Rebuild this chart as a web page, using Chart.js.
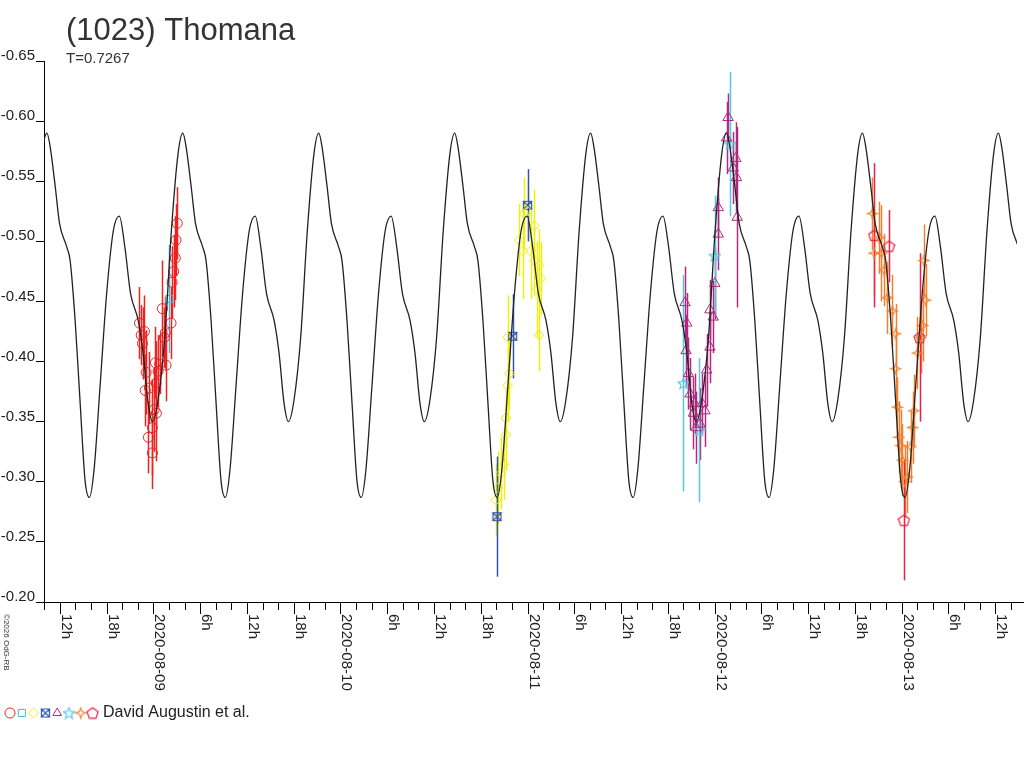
<!DOCTYPE html>
<html>
<head>
<meta charset="utf-8">
<script src="https://cdn.jsdelivr.net/npm/chart.js@4/dist/chart.umd.min.js"></script>
<style>
  html, body { margin: 0; padding: 0; background: #fff; }
  canvas { display: block; }
</style>
</head>
<body>
<canvas id="lc" width="1024" height="768"></canvas>
<script>
// time axis: hours since 2020-08-08 00h UT
const PERIOD_H = 0.7267 * 24;
const EPOCH_H = 10.33; // a maximum of the fitted curve

// one period of the fitted curve: [phase, mag]
const MODEL = [
  [0.000, -0.590], [0.025, -0.578], [0.062, -0.545], [0.093, -0.515],
  [0.147, -0.495], [0.171, -0.484], [0.208, -0.434], [0.245, -0.365],
  [0.281, -0.301], [0.313, -0.287], [0.347, -0.310], [0.391, -0.379],
  [0.440, -0.457], [0.489, -0.509], [0.533, -0.521], [0.574, -0.495],
  [0.615, -0.457], [0.672, -0.434], [0.708, -0.407], [0.745, -0.365],
  [0.777, -0.350], [0.818, -0.368], [0.867, -0.420], [0.916, -0.509],
  [0.965, -0.573]
];

// observations [hours, mag, err]
const OBS = {
  circ: { color: '#ee2222', style: 'circle', pts: [
    [22.21, -0.432, 0.03], [22.43, -0.422, 0.025], [22.60, -0.415, 0.03], [22.85, -0.425, 0.03],
    [23.07, -0.391, 0.035], [22.95, -0.376, 0.03], [23.49, -0.378, 0.03], [23.36, -0.337, 0.03],
    [23.87, -0.345, 0.04], [23.87, -0.324, 0.03], [24.10, -0.360, 0.035], [24.26, -0.399, 0.03],
    [24.35, -0.382, 0.035], [24.38, -0.357, 0.04], [24.60, -0.392, 0.03], [24.80, -0.398, 0.025],
    [25.15, -0.444, 0.04], [25.53, -0.424, 0.03], [25.62, -0.397, 0.03], [25.40, -0.420, 0.025],
    [26.26, -0.432, 0.03], [26.39, -0.466, 0.03], [26.60, -0.475, 0.03], [26.81, -0.486, 0.035],
    [26.90, -0.501, 0.03], [27.06, -0.515, 0.03]
  ]},
  sq: { color: '#44bbdd', style: 'rect', pts: [
    [26.04, -0.452, 0.045]
  ]},
  dia: { color: '#eeee11', style: 'rectRot', pts: [
    [67.96, -0.285, 0.03], [68.20, -0.295, 0.03], [68.59, -0.307, 0.03], [69.03, -0.315, 0.03],
    [69.23, -0.339, 0.03], [69.23, -0.353, 0.025], [69.45, -0.380, 0.03], [69.67, -0.390, 0.03],
    [69.45, -0.420, 0.035], [70.94, -0.501, 0.03], [71.36, -0.492, 0.04], [71.58, -0.523, 0.03],
    [72.00, -0.525, 0.025], [72.39, -0.492, 0.04], [72.86, -0.513, 0.03], [72.86, -0.484, 0.03],
    [73.49, -0.480, 0.03], [73.70, -0.469, 0.03], [73.49, -0.422, 0.03], [73.20, -0.460, 0.04]
  ]},
  bow: { color: '#3355aa', style: 'bow', pts: [
    [68.08, -0.271, 0.05], [70.09, -0.421, 0.035], [72.00, -0.530, 0.03]
  ]},
  tri: { color: '#b02a80', style: 'triangle', pts: [
    [92.21, -0.449, 0.03], [92.34, -0.409, 0.03], [92.43, -0.432, 0.025], [92.64, -0.390, 0.03],
    [92.85, -0.373, 0.03], [93.28, -0.357, 0.03], [93.62, -0.345, 0.03], [93.45, -0.365, 0.025],
    [94.13, -0.348, 0.03], [94.40, -0.365, 0.025], [94.76, -0.359, 0.03], [94.98, -0.393, 0.03],
    [95.40, -0.412, 0.03], [95.40, -0.443, 0.025], [95.82, -0.437, 0.03], [96.03, -0.465, 0.03],
    [96.47, -0.506, 0.03], [96.47, -0.528, 0.025], [97.53, -0.586, 0.03], [97.74, -0.603, 0.02],
    [98.39, -0.561, 0.03], [98.72, -0.569, 0.03], [98.81, -0.553, 0.03], [98.90, -0.520, 0.075]
  ]},
  star: { color: '#55c8e0', style: 'star5', pts: [
    [92.00, -0.382, 0.09], [94.04, -0.343, 0.06], [96.03, -0.488, 0.05], [97.96, -0.581, 0.06]
  ]},
  four: { color: '#f08030', style: 'four', pts: [
    [116.26, -0.523, 0.03], [116.47, -0.490, 0.035], [117.11, -0.503, 0.03], [117.40, -0.490, 0.04],
    [117.75, -0.476, 0.03], [118.18, -0.453, 0.03], [118.82, -0.442, 0.03], [119.24, -0.423, 0.025],
    [119.24, -0.394, 0.03], [119.46, -0.362, 0.025], [119.66, -0.337, 0.03], [119.90, -0.330, 0.03],
    [120.10, -0.318, 0.03], [120.40, -0.300, 0.03], [120.74, -0.304, 0.03], [121.16, -0.329, 0.03],
    [121.40, -0.345, 0.03], [121.58, -0.359, 0.03], [122.02, -0.407, 0.03], [122.44, -0.420, 0.03],
    [122.86, -0.484, 0.03], [123.08, -0.451, 0.03], [122.70, -0.430, 0.03]
  ]},
  pent: { color: '#ee2244', style: 'pent', pts: [
    [116.47, -0.505, 0.06], [118.38, -0.496, 0.03], [122.30, -0.420, 0.07], [120.30, -0.268, 0.05]
  ]}
};
const ORDER = ['circ', 'sq', 'dia', 'bow', 'tri', 'star', 'four', 'pent'];
const CUSTOM = ['pent', 'four', 'bow', 'star5'];

function markImg(kind, color) {
  const c = document.createElement('canvas');
  c.width = 13; c.height = 13;
  const g = c.getContext('2d');
  g.strokeStyle = color; g.lineWidth = 1.2;
  g.beginPath();
  if (kind === 'pent' || kind === 'star5') {
    const n = kind === 'pent' ? 5 : 10;
    for (let i = 0; i < n; i++) {
      const a = -Math.PI / 2 + i * 2 * Math.PI / n;
      const r = (kind === 'star5' && i % 2) ? 2.6 : 5.8;
      const x = 6.5 + r * Math.cos(a), y = 7 + r * Math.sin(a);
      i ? g.lineTo(x, y) : g.moveTo(x, y);
    }
    g.closePath();
  } else if (kind === 'four') {
    g.moveTo(6.5, 0.5); g.quadraticCurveTo(6.5, 6.5, 12.5, 6.5);
    g.quadraticCurveTo(6.5, 6.5, 6.5, 12.5); g.quadraticCurveTo(6.5, 6.5, 0.5, 6.5);
    g.quadraticCurveTo(6.5, 6.5, 6.5, 0.5);
  } else if (kind === 'bow') {
    g.moveTo(2.5, 2.5); g.lineTo(10.5, 2.5); g.lineTo(2.5, 10.5); g.lineTo(10.5, 10.5); g.closePath();
    g.moveTo(2.5, 2.5); g.lineTo(2.5, 10.5); g.moveTo(10.5, 2.5); g.lineTo(10.5, 10.5);
  }
  g.stroke();
  return c;
}

function styleFor(s) {
  return CUSTOM.includes(s.style) ? markImg(s.style, s.color) : s.style;
}

// model curve repeated over every cycle in the window
const modelPts = [];
for (let k = -1; k < 9; k++) {
  MODEL.forEach(([ph, m]) => modelPts.push({ x: EPOCH_H + (k + ph) * PERIOD_H, y: m }));
}

const datasets = ORDER.map(key => {
  const s = OBS[key];
  return {
    type: 'scatter',
    data: s.pts.map(p => ({ x: p[0], y: p[1], err: p[2] })),
    borderColor: s.color,
    backgroundColor: 'rgba(0,0,0,0)',
    pointStyle: styleFor(s),
    pointRadius: s.style === 'triangle' ? 6 : 5,
    pointBorderWidth: 1,
    order: 1
  };
});
datasets.push({
  type: 'line',
  data: modelPts,
  borderColor: '#222',
  borderWidth: 1.3,
  pointRadius: 0,
  cubicInterpolationMode: 'monotone',
  fill: false,
  order: 0
});

const FONT = '"Liberation Sans", Arial, sans-serif';

const errorBars = {
  id: 'errorBars',
  beforeDatasetsDraw(chart) {
    const { ctx, scales: { x, y } } = chart;
    ctx.save();
    ctx.beginPath();
    ctx.rect(chart.chartArea.left, chart.chartArea.top, chart.chartArea.width, chart.chartArea.height);
    ctx.clip();
    chart.data.datasets.forEach(ds => {
      if (ds.type !== 'scatter') return;
      ctx.strokeStyle = ds.borderColor;
      ctx.lineWidth = 1.5;
      ds.data.forEach(p => {
        const px = Math.round(x.getPixelForValue(p.x)) + 0.5;
        ctx.beginPath();
        ctx.moveTo(px, y.getPixelForValue(p.y - p.err));
        ctx.lineTo(px, y.getPixelForValue(p.y + p.err));
        ctx.stroke();
      });
    });
    ctx.restore();
  }
};

const decorations = {
  id: 'decorations',
  afterDraw(chart) {
    const { ctx, chartArea: a, scales: { x } } = chart;
    ctx.save();
    // time axis
    ctx.strokeStyle = '#000'; ctx.lineWidth = 1;
    ctx.beginPath(); ctx.moveTo(a.left, a.bottom + 0.5); ctx.lineTo(1024, a.bottom + 0.5); ctx.stroke();
    ctx.fillStyle = '#222';
    ctx.font = '15px ' + FONT;
    const months = ['08-08', '08-09', '08-10', '08-11', '08-12', '08-13', '08-14'];
    for (let h = 10; h <= x.max; h += 2) {
      const px = Math.round(x.getPixelForValue(h)) + 0.5;
      const major = h % 6 === 0;
      ctx.beginPath(); ctx.moveTo(px, a.bottom); ctx.lineTo(px, a.bottom + (major ? 12 : 8)); ctx.stroke();
      if (!major) continue;
      const lab = h % 24 === 0 ? '2020-' + months[h / 24] : (h % 24) + 'h';
      ctx.save();
      ctx.translate(px + 1, a.bottom + 12);
      ctx.rotate(Math.PI / 2);
      ctx.textBaseline = 'alphabetic';
      ctx.fillText(lab, 0, 0);
      ctx.restore();
    }
    // title
    ctx.fillStyle = '#333';
    ctx.font = '31px ' + FONT;
    ctx.fillText('(1023) Thomana', 66, 40);
    ctx.font = '15px ' + FONT;
    ctx.fillText('T=0.7267', 66, 63);
    // copyright
    ctx.save();
    ctx.font = '8px ' + FONT;
    ctx.translate(2, 614);
    ctx.rotate(Math.PI / 2);
    ctx.textBaseline = 'bottom';
    ctx.fillText('©2026 OdG-RB', 0, 0);
    ctx.restore();
    // legend
    ORDER.forEach((key, i) => {
      const s = OBS[key];
      ctx.strokeStyle = s.color; ctx.lineWidth = 1;
      ctx.fillStyle = 'rgba(0,0,0,0)';
      Chart.helpers.drawPoint(ctx, { pointStyle: styleFor(s), radius: 5, borderWidth: 1 }, 10 + i * 11.8, 713);
    });
    ctx.fillStyle = '#222';
    ctx.font = '16px ' + FONT;
    ctx.textBaseline = 'middle';
    ctx.fillText('David Augustin et al.', 103, 713);
    ctx.restore();
  }
};

new Chart(document.getElementById('lc'), {
  data: { datasets },
  options: {
    responsive: false,
    animation: false,
    layout: { padding: { top: 61, bottom: 166, right: 2, left: 0 } },
    plugins: { legend: { display: false }, tooltip: { enabled: false } },
    scales: {
      x: { type: 'linear', display: false, min: 9.96, max: 134.8 },
      y: {
        type: 'linear', reverse: true, min: -0.65, max: -0.20,
        afterFit: s => { s.width = 44; },
        ticks: {
          stepSize: 0.05, color: '#222', padding: 1, labelOffset: -5,
          font: { family: FONT, size: 15 },
          callback: v => v.toFixed(2)
        },
        grid: { drawOnChartArea: false, tickLength: 8, color: '#000' },
        border: { color: '#000', width: 1 }
      }
    }
  },
  plugins: [errorBars, decorations]
});
</script>
</body>
</html>
